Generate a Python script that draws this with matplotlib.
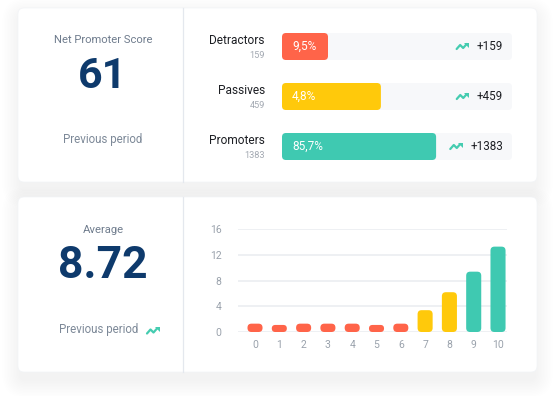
import matplotlib.pyplot as plt
from matplotlib.patches import FancyBboxPatch
import numpy as np

plt.rcParams['font.family'] = ['Roboto', 'DejaVu Sans']

# NPS groups
groups = ['Detractors', 'Passives', 'Promoters']
group_counts = ['159', '459', '1383']
group_pct = ['9,5%', '4,8%', '85,7%']
group_fill = [0.2, 0.43, 0.67]
group_change = ['+159', '+459', '+1383']

nps_score = '61'
average_score = '8.72'

# score distribution 0..10
scores = np.arange(11)
score_counts = [1.3, 1.1, 1.3, 1.3, 1.3, 1.1, 1.3, 3.4, 6.2, 9.4, 13.3]
y_ticks = [0, 4, 8, 12, 16]

RED = '#ff6449'
YELLOW = '#ffc90b'
TEAL = '#3fc9b1'
NAVY = '#0e3a6c'
GREY_TXT = '#6f7c8d'
TREND = '#45ccb0'
group_colors = [RED, YELLOW, TEAL]
score_colors = [RED] * 7 + [YELLOW] * 2 + [TEAL] * 2

W, H = 555, 396
fig = plt.figure(figsize=(W / 100, H / 100), dpi=100)
fig.patch.set_facecolor('white')

bg = fig.add_axes([0, 0, 1, 1])
bg.set_xlim(0, W)
bg.set_ylim(H, 0)
bg.axis('off')


def card(x0, y0, x1, y1):
    # soft shadow
    for i in range(12):
        p = 1 + i * 1.5
        bg.add_patch(FancyBboxPatch((x0 + 2, y0 + 8), x1 - x0 - 4, y1 - y0,
                                    boxstyle=f'round,pad={p},rounding_size={6 + p}',
                                    fc='#8a96b0', ec='none', alpha=0.007, zorder=1))
    bg.add_patch(FancyBboxPatch((x0, y0), x1 - x0, y1 - y0,
                                boxstyle='round,pad=0,rounding_size=6',
                                fc='white', ec='#f2f4f7', lw=0.5, zorder=2))
    bg.plot([183, 183], [y0, y1], color='#e4e8ee', lw=0.9, zorder=3)


card(18, 8, 537, 182)
card(18, 197, 537, 372)


def trend(ax, x, y):
    ax.plot([x, x + 3.5, x + 6.5, x + 10], [y + 2.5, y - 1.5, y + 1.5, y - 2.5],
            color=TREND, lw=1.6, solid_capstyle='round', solid_joinstyle='round', zorder=5)
    ax.fill([x + 7.5, x + 12.5, x + 12.5], [y - 4, y - 4, y + 1], color=TREND, lw=0, zorder=5)


def rbar(ax, x, y, w, h, r_px, color, z=3):
    t = ax.transData
    px_x = abs(t.transform((1, 0))[0] - t.transform((0, 0))[0])
    px_y = abs(t.transform((0, 1))[1] - t.transform((0, 0))[1])
    r_px = min(r_px, abs(w) * px_x / 2, abs(h) * px_y / 2)
    ax.add_patch(FancyBboxPatch((x, y), w, h,
                                boxstyle=f'round,pad=0,rounding_size={r_px / px_x}',
                                mutation_aspect=px_x / px_y,
                                fc=color, ec='none', zorder=z, clip_on=False))


# left panels
bg.text(103, 40, 'Net Promoter Score', ha='center', va='center', fontsize=8.1, color=GREY_TXT, zorder=6)
bg.text(103, 77, nps_score, ha='center', va='center', fontsize=31, fontweight='bold', color=NAVY, zorder=6)
bg.text(103, 140, 'Previous period', ha='center', va='center', fontsize=8.3, color='#7d8998', zorder=6)

bg.text(103, 230, 'Average', ha='center', va='center', fontsize=8.1, color=GREY_TXT, zorder=6)
bg.text(103, 266, average_score, ha='center', va='center', fontsize=32, fontweight='bold', color=NAVY, zorder=6)
bg.text(99, 330, 'Previous period', ha='center', va='center', fontsize=8.3, color='#7d8998', zorder=6)
trend(bg, 147, 331)

# top right: group bars
ax1 = fig.add_axes([282 / W, 1 - 171.5 / H, 230 / W, 150 / H])
ax1.set_xlim(0, 1)
ax1.set_ylim(2.5, -0.5)
ax1.axis('off')
bh = 0.54
for i, g in enumerate(groups):
    rbar(ax1, 0, i - bh / 2, 1, bh, 4, '#f7f8fa', z=2)
    rbar(ax1, 0, i - bh / 2, group_fill[i], bh, 4, group_colors[i], z=3)
    ax1.text(-0.074, i - 0.13, g, ha='right', va='center', fontsize=8.6, color='#1d1f24')
    ax1.text(-0.074, i + 0.18, group_counts[i], ha='right', va='center', fontsize=6.6, color='#a3a9b2')
    ax1.text(0.043, i, group_pct[i], ha='left', va='center', fontsize=8.5, color='white', zorder=4)
    ax1.text(0.961, i, group_change[i], ha='right', va='center', fontsize=8.4, color='#1d1f24', zorder=4)

# bottom right: score distribution
ax2 = fig.add_axes([238 / W, 1 - 332 / H, 269 / W, 102.7 / H])
ax2.set_xlim(-0.7, 10.37)
ax2.set_ylim(0, 16)
for s in ax2.spines.values():
    s.set_visible(False)
ax2.set_yticks(y_ticks)
ax2.set_xticks(scores)
ax2.tick_params(length=0, labelsize=7.5, labelcolor='#9aa2ac')
ax2.tick_params(axis='y', pad=12)
ax2.tick_params(axis='x', pad=6)
ax2.grid(axis='y', color='#eef0f3', lw=1.4)
ax2.set_axisbelow(True)
ax2.patch.set_alpha(0)
bw = 0.62
for xi, v, c in zip(scores, score_counts, score_colors):
    rbar(ax2, xi - bw / 2, 0, bw, v, 4, c)

# overlay for trend icons next to the change values
ov = fig.add_axes([0, 0, 1, 1])
ov.set_xlim(0, W)
ov.set_ylim(H, 0)
ov.axis('off')
fig.canvas.draw()
r = fig.canvas.get_renderer()
for txt in ax1.texts:
    if txt.get_text() in group_change:
        bb = txt.get_window_extent(r)
        trend(ov, bb.x0 - 20, H - (bb.y0 + bb.y1) / 2)

fig.savefig('out.png', dpi=100, facecolor='white')
